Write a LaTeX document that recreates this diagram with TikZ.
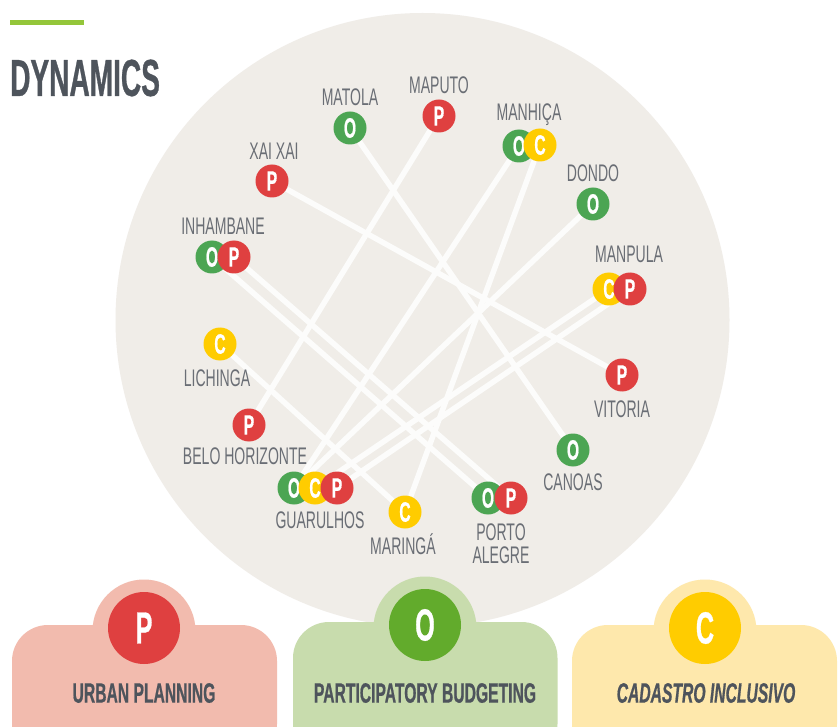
\documentclass[tikz,border=0pt]{standalone}
\usepackage{fontspec}
\usetikzlibrary{backgrounds}
\setmainfont{Liberation Sans}
\newfontfamily\labfont[FakeStretch=0.585]{Liberation Sans}
\newfontfamily\boldfont[FakeStretch=0.56,BoldFeatures={FakeBold=0.6},BoldItalicFeatures={FakeBold=0.6}]{Liberation Sans}
\newfontfamily\titlefont[FakeStretch=0.54,BoldFeatures={FakeBold=0.6}]{Liberation Sans}
\definecolor{disc}{HTML}{F0EDE8}
\definecolor{cred}{HTML}{DF4040}
\definecolor{cgreen}{HTML}{4CA553}
\definecolor{cgreenb}{HTML}{62AB2C}
\definecolor{cyel}{HTML}{FFCC00}
\definecolor{pred}{HTML}{F2BBAE}
\definecolor{pgreen}{HTML}{C8DCAD}
\definecolor{pyel}{HTML}{FEE8AC}
\definecolor{ink}{HTML}{4E545C}
\definecolor{lab}{HTML}{6A6E75}
\definecolor{barc}{HTML}{94C63A}
\definecolor{linkc}{HTML}{FCFCFB}
\tikzset{
  mk/.style={circle,minimum size=33pt,inner sep=0pt,text=white,font=\boldfont\bfseries\fontsize{28}{28}\selectfont},
  mkP/.style={mk,fill=cred},
  mkO/.style={mk,fill=cgreen},
  mkC/.style={mk,fill=cyel},
  city/.style={inner sep=0pt,text=lab,align=center,font=\labfont\fontsize{24}{24}\selectfont},
  link/.style={draw=linkc,line width=5.5pt},
  bigdot/.style={circle,minimum size=72pt,inner sep=0pt,text=white,font=\boldfont\bfseries\fontsize{45}{45}\selectfont},
  halo/.style={circle,minimum size=103pt,inner sep=0pt},
  legendtext/.style={inner sep=0pt,text=ink,font=\boldfont\bfseries\fontsize{28}{28}\selectfont},
}
\begin{document}
\begin{tikzpicture}[x=1pt,y=-1pt]
\useasboundingbox (0,0) rectangle (838,727);
\clip (0,0) rectangle (838,727);
% markers
\node[mkO] (matola) at (350,128) {O};
\node[mkP] (maputo) at (439,116) {P};
\node[mkO] (manhO) at (519,146) {O};
\node[mkC] (manhC) at (540,145) {C};
\node[mkP] (xai) at (272,181) {P};
\node[mkO] (dondo) at (593,204) {O};
\node[mkO] (inhO) at (212,257) {O};
\node[mkP] (inhP) at (234,257) {P};
\node[mkC] (manpC) at (609,289) {C};
\node[mkP] (manpP) at (630,289) {P};
\node[mkC] (lich) at (220,344) {C};
\node[mkP] (vit) at (622,375) {P};
\node[mkP] (belo) at (249,425) {P};
\node[mkO] (can) at (573,450) {O};
\node[mkO] (guaO) at (294,488) {O};
\node[mkC] (guaC) at (315,488) {C};
\node[mkP] (guaP) at (337,488) {P};
\node[mkC] (mar) at (405,512) {C};
\node[mkO] (paO) at (488,498) {O};
\node[mkP] (paP) at (511,498) {P};
% connectors and disc behind
\begin{pgfonlayer}{background}
\fill[white] (0,0) rectangle (838,727);
\node[circle,fill=disc,minimum size=614pt,inner sep=0pt] (disc) at (422.5,320) {};
\draw[link] (matola) -- (can);
\draw[link] (maputo) -- (belo);
\draw[link] (manhO) -- (guaO);
\draw[link] (manhC) -- (mar);
\draw[link] (xai) -- (vit);
\draw[link] (dondo) -- (guaO);
\draw[link] (inhO) -- (paO);
\draw[link] (inhP) -- (paP);
\draw[link] (manpC) -- (guaC);
\draw[link] (manpP) -- (guaP);
\draw[link] (lich) -- (mar);
\end{pgfonlayer}
\fill[barc] (10,20) rectangle (84,25);
\node[anchor=west,inner sep=0pt,text=ink,font=\titlefont\bfseries\fontsize{52}{52}\selectfont] (title) at (10,78) {DYNAMICS};
% labels
\node[city] (l1) at (350,97) {MATOLA};
\node[city] (l2) at (439,85) {MAPUTO};
\node[city] (l3) at (529,115) {MANHIÇA};
\node[city] (l4) at (274,151) {XAI XAI};
\node[city] (l5) at (593,173) {DONDO};
\node[city] (l6) at (223,226) {INHAMBANE};
\node[city] (l7) at (629,254) {MANPULA};
\node[city] (l8) at (217,378) {LICHINGA};
\node[city] (l9) at (622,409) {VITORIA};
\node[city] (l10) at (245,456) {BELO HORIZONTE};
\node[city] (l11) at (573,482) {CANOAS};
\node[city] (l12) at (320,520) {GUARULHOS};
\node[city] (l13) at (403,544) {MARINGÁ};
\node[city] (l14) at (501,532) {PORTO};
\node[city] (l15) at (501,555) {ALEGRE};
% legend panels
\node[halo,fill=pred] (h1) at (144,631) {};
\fill[pred,rounded corners=36pt] (12,625) rectangle (277,760);
\node[bigdot,fill=cred] (b1) at (144,628) {P};
\node[legendtext] (c1) at (144,693) {URBAN PLANNING};
\node[halo,fill=pgreen] (h2) at (425,628) {};
\fill[pgreen,rounded corners=36pt] (293,622) rectangle (557.5,760);
\node[bigdot,fill=cgreenb] (b2) at (425,625) {O};
\node[legendtext] (c2) at (425,693) {PARTICIPATORY BUDGETING};
\node[halo,fill=pyel] (h3) at (705,631) {};
\fill[pyel,rounded corners=36pt] (572,625) rectangle (837,760);
\node[bigdot,fill=cyel] (b3) at (705,628) {C};
\node[legendtext,font=\boldfont\bfseries\itshape\fontsize{28}{28}\selectfont] (c3) at (706,693) {CADASTRO INCLUSIVO};
\end{tikzpicture}
\end{document}
